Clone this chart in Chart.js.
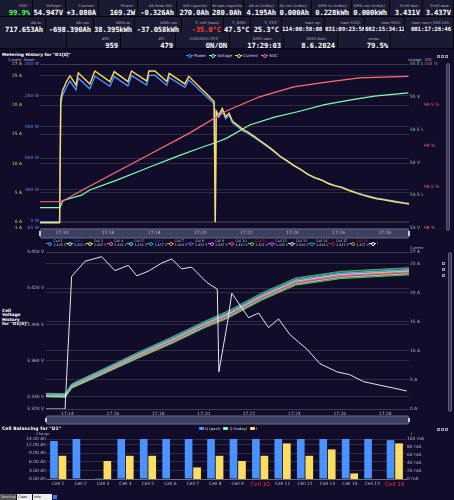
<!DOCTYPE html>
<html lang="en">
<head>
<meta charset="UTF-8" />
<title>BMS D1</title>
<script src="https://cdn.jsdelivr.net/npm/chart.js"></script>
<style>
  body { margin:0; width:454px; height:500px; overflow:hidden; background:#100c2a; font-family:'DejaVu Sans', sans-serif; color:#eef1fa; position:relative; }
  .cell { position:absolute; box-sizing:border-box; border-right:1px solid #05050c; border-bottom:1px solid #05050c; background:#1b1a33; text-align:right; overflow:hidden; white-space:nowrap; padding-top:3px; }
  .cell .l { display:block; font-family:'DejaVu Serif', serif; font-size:3.8px; line-height:5px; color:#b0b0c0; }
  .cell .v { display:block; font-family:'DejaVu Sans Mono', monospace; font-weight:bold; font-size:7.2px; line-height:9px; color:#fff; letter-spacing:-0.1px; }
  .cell .v.small { font-size:5.8px; letter-spacing:-0.15px; }
  .abs { position:absolute; white-space:nowrap; }
  .ttl { font-weight:bold; font-size:4.3px; color:#fff; }
  .legend { position:absolute; display:flex; align-items:center; font-size:4px; color:#d8d8e8; white-space:nowrap; }
  .legend .it { display:flex; align-items:center; margin-right:3px; }
  .ic { display:inline-block; position:relative; width:7px; height:4px; margin-right:1px; }
  .ic::before { content:''; position:absolute; left:0; right:0; top:1.5px; height:1px; background:currentColor; }
  .ic::after { content:''; position:absolute; left:2px; top:0; width:2px; height:2px; border:1px solid currentColor; border-radius:50%; background:#100c2a; }
  .sq { display:inline-block; width:5px; height:3px; margin-right:1px; border-radius:1px; }
  .cl { display:flex; align-items:center; width:20.2px; }
  .cl span.t { font-size:3.3px; line-height:3.6px; color:#c8c8d8; }
  canvas { position:absolute; left:0; }
  .bar { position:absolute; background:#3a3a55; border:1px solid #5a5a78; border-radius:2px; box-sizing:border-box; }
  .tool { position:absolute; width:3px; height:3px; border:1px solid #9a9ab0; box-sizing:border-box; }
  .btn { position:absolute; top:494px; height:6px; font-size:3.5px; line-height:6px; padding:0 1px; box-sizing:border-box; }
</style>
</head>
<body>

<div id="hdr"></div>

<div class="abs ttl" style="left:2px;top:52px;">Metering History for "D1[0]"</div>
<div class="abs" style="left:8px;top:58px;font-size:3.6px;color:#b9b8ce;">Current&nbsp; Power</div>
<div class="abs" style="left:408px;top:58px;font-size:3.6px;color:#b9b8ce;">Voltage&nbsp;&nbsp; SOC</div>
<div class="legend" style="left:186px;top:53px;">
  <div class="it"><i class="ic" style="color:#4992ff"></i>Power</div>
  <div class="it"><i class="ic" style="color:#7cffb2"></i>Voltage</div>
  <div class="it"><i class="ic" style="color:#fddd60"></i>Current</div>
  <div class="it"><i class="ic" style="color:#ff6e76"></i>SOC</div>
</div>
<div class="tool" style="left:437px;top:55px;"></div>
<div class="tool" style="left:441px;top:55px;"></div>
<div class="tool" style="left:445px;top:55px;"></div>
<div class="bar" style="left:446px;top:63px;width:4px;height:168px;"></div>
<canvas id="meter" width="454" height="190" style="top:50px"></canvas>

<div class="legend" id="cellLegend" style="left:46px;top:240px;"></div>
<div class="abs ttl" style="left:2px;top:309px;line-height:4.4px;">Cell<br>Voltage<br>History<br>for "D1[0]"</div>
<div class="abs" style="left:410px;top:246px;font-size:3.6px;color:#b9b8ce;">Current</div>
<div class="tool" style="left:442px;top:262px;"></div>
<div class="tool" style="left:442px;top:268px;"></div>
<div class="tool" style="left:442px;top:274px;"></div>
<div class="bar" style="left:448px;top:252px;width:4px;height:160px;"></div>
<canvas id="cells" width="454" height="190" style="top:238px"></canvas>

<div class="abs ttl" style="left:2px;top:426px;font-size:4.6px;">Cell Balancing for "D1"</div>
<div class="legend" style="left:199px;top:426px;font-size:3.8px;">
  <div class="it"><i class="sq" style="background:#4992ff"></i>Q (past)</div>
  <div class="it"><i class="sq" style="background:#7cffb2"></i>Q (today)</div>
  <div class="it"><i class="sq" style="background:#fddd60"></i>I</div>
</div>
<div class="abs" style="left:36px;top:431px;font-size:3.8px;color:#b9b8ce;">Charge</div>
<div class="abs" style="left:411px;top:431px;font-size:3.8px;color:#b9b8ce;">I</div>
<div class="tool" style="left:437px;top:428px;"></div>
<div class="tool" style="left:441px;top:428px;"></div>
<div class="tool" style="left:445px;top:428px;"></div>
<canvas id="balance" width="454" height="65" style="top:425px"></canvas>

<div class="btn" style="left:0;width:16px;background:#555;color:#ddd;">Terminal</div>
<div class="btn" style="left:17px;width:15px;background:#eee;color:#000;">Clear RX</div>
<div class="btn" style="left:33px;width:19px;background:#eee;color:#000;">Info Polling</div>
<div class="btn" style="left:53px;width:4px;height:4px;top:495px;background:#2a7fff;"></div>

<script>
  // ---- metering history (minutes after 17:13:03) ----
  const meterTime = [0, 0.85, 0.9, 0.98, 1.15, 1.3, 1.56, 1.66, 2.16, 2.38, 3.03, 3.22, 3.81, 3.97, 4.63, 4.72, 4.98, 5.5, 5.6, 6.28, 6.45, 7.06, 7.25, 7.4, 7.55, 7.6, 7.64, 7.75, 7.9, 8.05, 8.2, 8.35, 8.55, 8.8, 9.0, 9.3, 9.55, 9.8, 10.1, 10.4, 10.7, 11.0, 11.3, 11.6, 11.9, 12.2, 12.5, 12.8, 13.1, 13.4, 13.7, 14.0, 14.3, 14.6, 14.9, 15.2, 15.5, 15.8, 16.0];
  const meterCurrent = [-0.1, -0.1, 21.0, 22.5, 24.0, 25.0, 23.4, 25.5, 23.6, 25.8, 24.0, 25.7, 24.0, 25.8, 24.1, 25.8, 25.8, 24.0, 25.4, 23.6, 24.9, 22.5, 21.8, 21.2, 20.6, 0.0, 19.0, 18.2, 19.4, 18.0, 18.6, 17.2, 16.6, 15.8, 15.4, 14.6, 13.9, 13.2, 12.3, 11.3, 10.5, 9.7, 9.0, 8.2, 7.6, 7.2, 6.6, 6.2, 5.9, 5.4, 5.0, 4.6, 4.3, 4.0, 3.8, 3.6, 3.4, 3.2, 3.1];
  const meterPower = [-5, -5, 1120, 1202, 1283, 1337, 1252, 1365, 1264, 1383, 1288, 1380, 1291, 1389, 1299, 1391, 1392, 1296, 1373, 1277, 1349, 1220, 1183, 1151, 1118, 0, 1032, 989, 1054, 978, 1011, 936, 904, 861, 840, 797, 759, 721, 673, 618, 575, 531, 493, 449, 417, 395, 362, 340, 324, 297, 275, 253, 237, 220, 209, 198, 187, 176, 171];
  const voltTime = [0, 0.87, 0.95, 1.0, 1.8, 2.16, 3.33, 4.76, 6.0, 6.93, 7.6, 8.1, 9.09, 10.17, 11.26, 12.34, 13.42, 14.5, 15.97];
  const voltValue = [53.31, 53.31, 53.38, 53.42, 53.50, 53.58, 53.73, 53.93, 54.10, 54.22, 54.30, 54.37, 54.57, 54.69, 54.78, 54.88, 54.95, 55.01, 55.06];
  const socTime = [0, 0.87, 1.0, 1.82, 4.76, 6.5, 8.1, 9.52, 11.0, 12.42, 13.85, 15.97];
  const socValue = [98.32, 98.32, 98.33, 98.46, 98.90, 99.16, 99.43, 99.60, 99.72, 99.78, 99.83, 99.85];

  const timeTicks = [0.95, 2.95, 4.95, 6.95, 8.95, 10.95, 12.95, 14.95];
  const timeLabels = ['17:14', '17:16', '17:18', '17:20', '17:22', '17:24', '17:26', '17:28'];

  const currentTicks = [-1, 0, 5, 10, 15, 20, 25, 27];
  const powerTicks = [-65, 0, 300, 600, 900, 1200, 1500];
  const voltTicks = [53, 53.5, 54, 54.5, 55, 55.5];
  const socTicks = [98, 98.5, 99, 99.5, 100];

  // ---- cell voltage history ----
  const cellNames = ['Cell 1', 'Cell 2', 'Cell 3', 'Cell 4', 'Cell 5', 'Cell 6', 'Cell 7', 'Cell 8', 'Cell 9', 'Cell 10', 'Cell 11', 'Cell 12', 'Cell 13', 'Cell 14', 'Cell 15', 'Cell 16'];
  const cellColors = ['#4992ff', '#7cffb2', '#fddd60', '#ff6e76', '#58d9f9', '#05c091', '#ff8a45', '#8d48e3', '#dd79ff', '#ff4d6d', '#5ad65a', '#e040fb', '#f8c8d8', '#2aa198', '#b22222', '#b8a020'];
  const cellNameColors = ['#c8c8d8', '#3355ff', '#c8c8d8', '#c8c8d8', '#c8c8d8', '#3355ff', '#c8c8d8', '#c8c8d8', '#c8c8d8', '#c8c8d8', '#ff3030', '#c8c8d8', '#c8c8d8', '#c8c8d8', '#c8c8d8', '#ff3030'];
  const cellTime = [0, 0.85, 1.13, 2.5, 4, 5.5, 7, 8, 9.5, 11, 13, 16];
  const cellV = [
    [3.3320, 3.3317, 3.3396, 3.3515, 3.3648, 3.3774, 3.3909, 3.3990, 3.4140, 3.4265, 3.4320, 3.4350],
    [3.3305, 3.3302, 3.3378, 3.3494, 3.3624, 3.3747, 3.3882, 3.3960, 3.4110, 3.4235, 3.4290, 3.4320],
    [3.3318, 3.3315, 3.3393, 3.3512, 3.3644, 3.3770, 3.3905, 3.3985, 3.4135, 3.4260, 3.4315, 3.4345],
    [3.3313, 3.3310, 3.3387, 3.3505, 3.3636, 3.3760, 3.3896, 3.3975, 3.4125, 3.4250, 3.4305, 3.4335],
    [3.3323, 3.3320, 3.3399, 3.3519, 3.3652, 3.3779, 3.3914, 3.3995, 3.4145, 3.4270, 3.4325, 3.4355],
    [3.3328, 3.3325, 3.3405, 3.3526, 3.3660, 3.3788, 3.3923, 3.4005, 3.4155, 3.4280, 3.4335, 3.4365],
    [3.3315, 3.3312, 3.3390, 3.3508, 3.3640, 3.3765, 3.3900, 3.3980, 3.4130, 3.4255, 3.4310, 3.4340],
    [3.3310, 3.3307, 3.3384, 3.3501, 3.3632, 3.3756, 3.3891, 3.3970, 3.4120, 3.4245, 3.4300, 3.4330],
    [3.3319, 3.3316, 3.3395, 3.3514, 3.3646, 3.3772, 3.3907, 3.3988, 3.4138, 3.4263, 3.4318, 3.4348],
    [3.3308, 3.3305, 3.3381, 3.3497, 3.3628, 3.3751, 3.3886, 3.3965, 3.4115, 3.4240, 3.4295, 3.4325],
    [3.3300, 3.3297, 3.3372, 3.3487, 3.3616, 3.3738, 3.3873, 3.3950, 3.4100, 3.4225, 3.4280, 3.4310],
    [3.3321, 3.3318, 3.3397, 3.3516, 3.3650, 3.3776, 3.3911, 3.3992, 3.4142, 3.4267, 3.4322, 3.4352],
    [3.3314, 3.3311, 3.3389, 3.3507, 3.3638, 3.3763, 3.3898, 3.3978, 3.4128, 3.4253, 3.4308, 3.4338],
    [3.3317, 3.3314, 3.3392, 3.3510, 3.3642, 3.3768, 3.3903, 3.3983, 3.4133, 3.4258, 3.4313, 3.4343],
    [3.3303, 3.3300, 3.3375, 3.3491, 3.3620, 3.3743, 3.3878, 3.3955, 3.4105, 3.4230, 3.4285, 3.4315],
    [3.3330, 3.3327, 3.3408, 3.3529, 3.3664, 3.3792, 3.3927, 3.4010, 3.4160, 3.4285, 3.4340, 3.4370]
  ];
  const cellLegendV = ['3.435 V', '3.432 V', '3.435 V', '3.434 V', '3.436 V', '3.437 V', '3.434 V', '3.433 V', '3.435 V', '3.433 V', '3.431 V', '3.435 V', '3.434 V', '3.434 V', '3.432 V', '3.437 V'];
  const packTime = [0, 0.84, 1.13, 1.72, 2.45, 3.04, 3.63, 4.0, 4.51, 5.1, 5.54, 5.98, 6.42, 7.08, 7.55, 7.62, 8.0, 8.19, 8.93, 9.37, 9.81, 10.25, 10.75, 11.5, 12.07, 12.82, 13.39, 14.0, 14.71, 15.32, 15.9];
  const packCurrent = [0, 0, 22.8, 25.4, 26.2, 23.8, 24.7, 22.9, 23.7, 25.1, 25.8, 24.1, 24.4, 21.8, 20.6, 6.4, 14.9, 19.9, 15.7, 16.5, 14.0, 15.5, 12.8, 10.3, 7.8, 6.4, 5.9, 4.7, 4.1, 3.6, 3.1];
  const cellVTicks = [3.32, 3.33, 3.36, 3.39, 3.42, 3.45];
  const packITicks = [0, 5, 10, 15, 20, 25, 27];

  // ---- cell balancing ----
  const qPast = [13.3, 14.0, 0.3, 14.0, 14.0, 14.0, 14.0, 14.0, 14.0, 14.0, 14.0, 14.0, 14.0, 14.0, 14.0, 13.6];
  const qToday = [0, 0, 0, 0, 0, 0, 0, 0, 0, 0, 0, 0, 0, 0, 0, 0];
  const balanceI = [58, 0, 45, 58, 58, 0, 29, 58, 45, 58, 89, 58, 74, 14, 0, 89];
  const chargeTicks = [0, 3, 6, 9, 12, 14];
  const balITicks = [0, 20, 40, 60, 80, 100];

  // ---- header table ----
  const hdrRow1 = [
    ['SOC:', '99.9%', 33, '#4cff4c'], ['Voltage:', '54.947V', 66], ['Current:', '+3.080A', 99], ['Power:', '169.2W', 138],
    ['Ah from full:', '-0.326Ah', 177], ['full capacity:', '270.0Ah', 212], ['design capacity:', '280.0Ah', 244],
    ['Ah in (today):', '4.195Ah', 279], ['Ah out (today):', '0.000Ah', 312], ['kWh in (today):', '0.228kWh', 352],
    ['kWh out (today):', '0.000kWh', 390], ['Vcell min:', '3.431V', 423], ['Vcell max:', '3.437V', 454]
  ];
  const hdrRow2 = [
    ['Ah in:', '717.653Ah', 46], ['Ah out:', '-698.390Ah', 94], ['kWh in:', '38.395kWh', 135], ['kWh out:', '-37.058kWh', 182],
    ['T_cell (max):', '-35.0°C', 224, '#ff3a3a'], ['T_BMS:', '47.5°C', 251], ['T_FET:', '25.3°C', 282],
    ['time up:', '114:00:58:08', 325, null, 1], ['time CHG:', '031:09:23:56', 365, null, 1],
    ['time DSG:', '082:15:34:12', 405, null, 1], ['time since SOC100:', '001:17:26:46', 454, null, 1]
  ];
  const hdrRow3 = [
    ['', '', 67], ['#M:', '959', 121], ['#V:', '479', 176], ['CHG/DSG FET:', 'ON/ON', 230],
    ['BMS time:', '17:29:03', 284], ['BMS date:', '8.6.2024', 338], ['zoom:', '79.5%', 391], ['', '', 454]
  ];

  const hdr = document.getElementById('hdr');
  [[hdrRow1, 0, 1], [hdrRow2, 17, 1], [hdrRow3, 33, 8]].forEach(([row, top, lpad]) => {
    let left = 0;
    row.forEach(([label, value, right, color, small]) => {
      const d = document.createElement('div');
      d.className = 'cell';
      d.style.cssText = `left:${left}px;top:${top}px;width:${right - left}px;height:${top === 33 ? 16 : 17}px;padding-right:2px;`;
      d.innerHTML = `<span class="l" style="padding-right:${lpad}px">${label || '&nbsp;'}</span>` +
        `<span class="v${small ? ' small' : ''}" style="${color ? 'color:' + color : ''}">${value}</span>`;
      hdr.appendChild(d);
      left = right;
    });
  });

  const cellLegend = document.getElementById('cellLegend');
  cellNames.forEach((n, i) => {
    cellLegend.insertAdjacentHTML('beforeend',
      `<div class="cl"><i class="ic" style="color:${cellColors[i]}"></i><span class="t"><span style="color:${cellNameColors[i]}">${n}</span><br>${cellLegendV[i]}</span></div>`);
  });
  cellLegend.insertAdjacentHTML('beforeend', '<div class="cl"><i class="ic" style="color:#fff"></i><span class="t">I</span></div>');

  const pts = (xs, ys) => xs.map((x, i) => ({ x, y: ys[i] }));
  const fixed = vals => scale => { scale.ticks = vals.map(v => ({ value: v })); };
  const tickFont = { size: 4.4, family: 'DejaVu Sans' };
  const gridCol = 'rgba(72,71,83,0.55)';

  const sliderBar = {
    id: 'sliderBar',
    beforeDraw(chart, args, opts) {
      if (!opts.h) return;
      const { ctx, chartArea: a } = chart;
      const y = a.bottom + opts.offset;
      ctx.save();
      ctx.fillStyle = 'rgba(135,150,190,0.38)';
      ctx.strokeStyle = '#6a6a88';
      ctx.lineWidth = 1;
      ctx.beginPath();
      ctx.roundRect(a.left, y, a.right - a.left, opts.h, 2);
      ctx.fill();
      ctx.stroke();
      ctx.fillStyle = '#c8c8dc';
      ctx.fillRect(a.left - 1, y + 2, 2, opts.h - 4);
      ctx.fillRect(a.right - 1, y + 2, 2, opts.h - 4);
      ctx.restore();
    }
  };
  Chart.register(sliderBar);

  const timeAxis = (height) => ({
    type: 'linear', min: 0, max: 16,
    afterBuildTicks: fixed(timeTicks),
    afterFit: s => { s.height = height; },
    grid: { display: false, drawTicks: false },
    border: { display: false },
    ticks: { autoSkip: false, maxRotation: 0, padding: 2, font: tickFont, color: '#b9b8ce', callback: (v, i) => timeLabels[i] }
  });
  const yAxis = (o) => ({
    type: 'linear', position: o.pos, weight: o.weight || 0, min: o.min, max: o.max,
    afterBuildTicks: fixed(o.ticks),
    afterFit: s => { s.width = o.width; },
    border: { display: false },
    grid: { display: !!o.grid, color: gridCol, drawTicks: false },
    ticks: { autoSkip: false, padding: o.pad == null ? 1 : o.pad, font: tickFont, color: o.color, callback: o.fmt }
  });
  const line = (label, data, axis, color, order, width) => ({
    label, data, yAxisID: axis, borderColor: color, backgroundColor: color,
    borderWidth: width || 1.2, pointRadius: 0, tension: 0, order
  });

  new Chart(document.getElementById('meter'), {
    type: 'line',
    data: {
      datasets: [
        line('Power', pts(meterTime, meterPower), 'yP', '#4992ff', 3, 1.4),
        line('Voltage', pts(voltTime, voltValue), 'yV', '#7cffb2', 2, 1.2),
        line('Current', pts(meterTime, meterCurrent), 'yI', '#fddd60', 1, 1.4),
        line('SOC', pts(socTime, socValue), 'yS', '#ff6e76', 0, 1.2)
      ]
    },
    options: {
      responsive: false, animation: false, events: [],
      layout: { padding: { top: 14, left: 0, right: 0, bottom: 0 } },
      plugins: { legend: { display: false }, tooltip: { enabled: false }, sliderBar: { offset: 1, h: 9 } },
      scales: {
        x: timeAxis(12),
        yI: yAxis({ pos: 'left', weight: 1, min: -1, max: 27, ticks: currentTicks, width: 23, color: '#e8cc5a', fmt: v => v + ' A', grid: true }),
        yP: yAxis({ pos: 'left', weight: 0, min: -65, max: 1500, ticks: powerTicks, width: 17, color: '#5b8fe8', fmt: v => v.toLocaleString('en-US') + ' W', grid: true }),
        yV: yAxis({ pos: 'right', weight: 0, min: 53, max: 55.5, ticks: voltTicks, width: 14, color: '#7cd9a0', fmt: v => v + ' V', pad: 1 }),
        yS: yAxis({ pos: 'right', weight: 1, min: 98, max: 100, ticks: socTicks, width: 31, color: '#e86870', fmt: v => v + ' %', pad: 1 })
      }
    }
  });

  const cellSets = cellV.map((vals, i) => line(cellNames[i], pts(cellTime, vals), 'y', cellColors[i], i + 1, 0.9));
  cellSets.unshift(line('I', pts(packTime, packCurrent), 'yA', '#ffffff', 0, 0.9));

  new Chart(document.getElementById('cells'), {
    type: 'line',
    data: { datasets: cellSets },
    options: {
      responsive: false, animation: false, events: [],
      layout: { padding: { top: 14, left: 0, right: 0, bottom: 0 } },
      plugins: { legend: { display: false }, tooltip: { enabled: false }, sliderBar: { offset: 7, h: 8 } },
      scales: {
        x: timeAxis(19),
        y: yAxis({ pos: 'left', min: 3.32, max: 3.45, ticks: cellVTicks, width: 46, color: '#b9b8ce', fmt: v => v.toFixed(3) + ' V', grid: true, pad: 2 }),
        yA: yAxis({ pos: 'right', min: 0, max: 27, ticks: packITicks, width: 45, color: '#b9b8ce', fmt: v => v + ' A', grid: true, pad: 1 })
      }
    }
  });

  new Chart(document.getElementById('balance'), {
    type: 'bar',
    data: {
      labels: cellNames,
      datasets: [
        { label: 'Q (past)', data: qPast, yAxisID: 'y', stack: 'q', backgroundColor: '#4992ff' },
        { label: 'Q (today)', data: qToday, yAxisID: 'y', stack: 'q', backgroundColor: '#7cffb2' },
        { label: 'I', data: balanceI, yAxisID: 'y1', stack: 'i', backgroundColor: '#fddd60' }
      ]
    },
    options: {
      responsive: false, animation: false, events: [],
      categoryPercentage: 0.76, barPercentage: 0.9,
      layout: { padding: { top: 14, left: 0, right: 0, bottom: 0 } },
      plugins: { legend: { display: false }, tooltip: { enabled: false }, sliderBar: { h: 0 } },
      scales: {
        x: {
          afterFit: s => { s.height = 11; },
          grid: { display: false, drawTicks: false }, border: { color: '#6e6e80' },
          ticks: {
            autoSkip: false, maxRotation: 0, padding: 2,
            color: c => (c.index === 9 || c.index === 15) ? '#ff3030' : '#b9b8ce',
            font: c => (c.index === 9 || c.index === 15) ? { size: 5.6, family: 'DejaVu Sans' } : tickFont
          }
        },
        y: yAxis({ pos: 'left', min: 0, max: 14, ticks: chargeTicks, width: 47, color: '#b9b8ce', fmt: v => v.toFixed(2) + ' Ah', grid: true, pad: 1 }),
        y1: yAxis({ pos: 'right', min: 0, max: 100, ticks: balITicks, width: 48, color: '#b9b8ce', fmt: v => v + ' mA', pad: 1 })
      }
    }
  });
</script>

</body>
</html>
